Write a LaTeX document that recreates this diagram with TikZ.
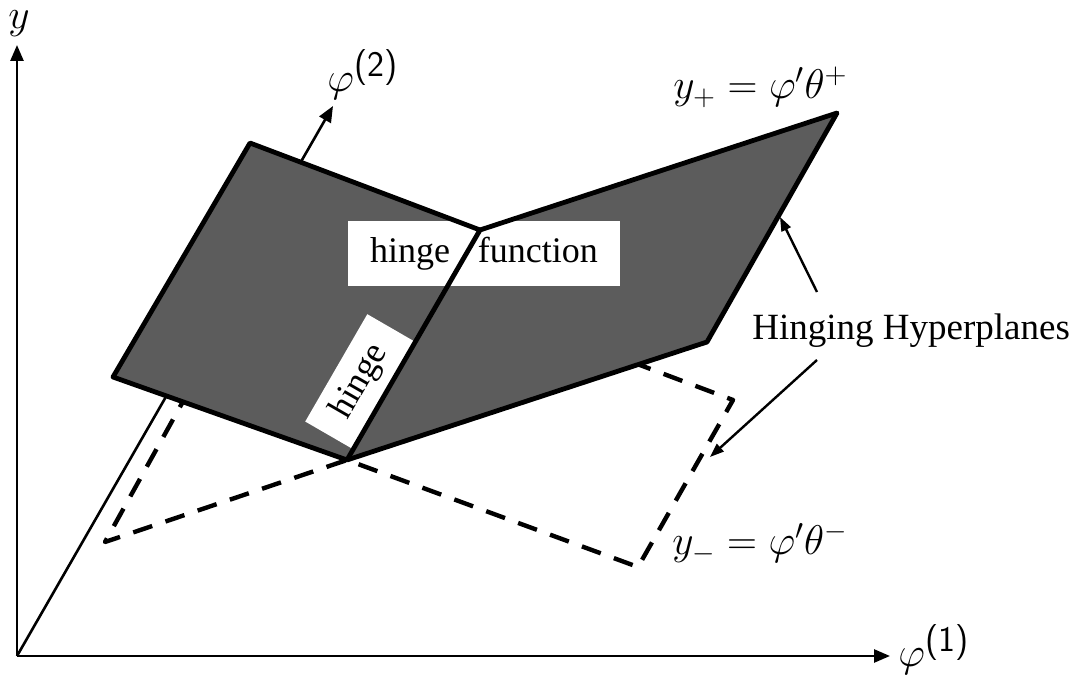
\documentclass[tikz,border=0pt]{standalone}
\usepackage[no-math]{fontspec}
\setmainfont{Liberation Serif}
\usepackage{amsmath}
\usetikzlibrary{arrows.meta}
\newcommand{\axsup}[1]{\text{\fontsize{18}{18}\selectfont\sffamily(#1)}}

\begin{document}
\begin{tikzpicture}[
  x=0.5pt, y=-0.5pt,
  axisline/.style={line width=1.3pt, -{Triangle[length=8pt,width=6.5pt]}},
  plane/.style={fill=black!64, draw=none},
  rim/.style={line width=2.4pt, line join=round},
  dashrim/.style={line width=2.2pt, dash pattern=on 10pt off 7pt, line join=round},
  lbl/.style={font=\fontsize{18}{22}\selectfont, inner sep=0pt},
  mlbl/.style={font=\fontsize{22}{26}\selectfont, inner sep=0pt},
  tag/.style={lbl, fill=white},
  ptr/.style={line width=1.2pt, -{Triangle[length=7pt,width=5pt]}}
]
\useasboundingbox (0,0) rectangle (1077,678);

% axes
\coordinate (O) at (17,656);
\coordinate (ytip) at (17,45);
\coordinate (xtip) at (890,656);
\coordinate (ztip) at (333,106);
\draw[axisline] (O) -- (ytip);
\draw[axisline] (O) -- (xtip);
\draw[axisline] (O) -- (ztip);

% corners of the two planes
\coordinate (pL) at (113,377);
\coordinate (pT) at (250,143);
\coordinate (hA) at (480,230);
\coordinate (hB) at (347,460);
\coordinate (pR) at (837,113);
\coordinate (pB) at (707,342);

% lower hyperplane, partly hidden
\coordinate (m1) at (206,360);
\coordinate (mL) at (105,542);
\coordinate (mB) at (638,567);
\coordinate (mR) at (733,400);
\coordinate (m2) at (600,350);
\draw[dashrim] (m1) -- (mL) -- (hB) -- (mB) -- (mR) -- (m2);

% upper hyperplane
\fill[plane] (pL) -- (pT) -- (hA) -- (pR) -- (pB) -- (hB) -- cycle;
\node[tag, minimum width=136pt, minimum height=32.5pt] (hf) at (484,254) {hinge\hspace{14pt}function};
\path (hB) -- node[tag, sloped, anchor=south, pos=0.28, minimum width=62pt, minimum height=27.5pt] (hg) {hinge} (hA);
\draw[rim] (pL) -- (pT) -- (hA) -- (hB) -- cycle;
\draw[rim] (hA) -- (pR) -- (pB) -- (hB);

% labels
\node[mlbl, anchor=base] (ylab) at (19,29) {$y$};
\node[mlbl, anchor=base west] (zlab) at (327,92) {$\varphi^{\axsup{2}}$};
\node[mlbl, anchor=base west] (xlab) at (898,667) {$\varphi^{\axsup{1}}$};
\node[mlbl, anchor=base west] (ypl) at (673,99) {$y_+=\varphi'\theta^+$};
\node[mlbl, anchor=base west] (ymi) at (672,555) {$y_-=\varphi'\theta^-$};
\node[lbl, font=\fontsize{18.5}{22}\selectfont, anchor=base west] (hh) at (752,340) {Hinging Hyperplanes};

\coordinate (t1) at (817,292);
\coordinate (e1) at (780,217);
\coordinate (t2) at (817,360);
\coordinate (e2) at (710,457);
\draw[ptr] (t1) -- (e1);
\draw[ptr] (t2) -- (e2);
\end{tikzpicture}
\end{document}
